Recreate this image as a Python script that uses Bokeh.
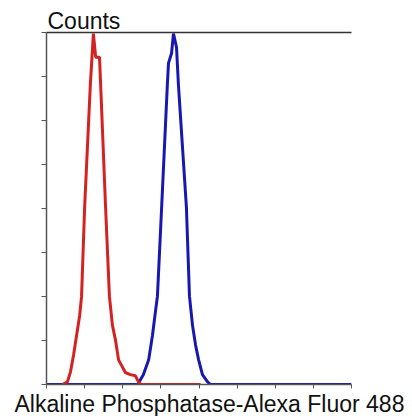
from bokeh.plotting import figure
from bokeh.models import Range1d, FixedTicker, LinearAxis, Title
from bokeh.embed import file_html
from bokeh.resources import INLINE

# Isotype control (red) histogram, y in % of max count
red_x = [0.42, 0.55, 0.63, 0.71, 0.79, 0.87, 0.92, 1.00, 1.15, 1.23, 1.29, 1.39, 1.42,
         1.55, 1.65, 1.73, 1.81, 1.89, 1.99, 2.07, 2.20, 2.33, 2.41, 2.47, 4.04]
red_y = [0.0, 0.8, 3.6, 8.4, 14.0, 19.6, 25.1, 50.3, 85.2, 99.7, 93.0, 93.0, 85.2,
         50.3, 25.1, 16.8, 12.6, 7.0, 5.0, 3.4, 2.8, 2.5, 0.8, 0.0, 0.0]

# Alkaline Phosphatase stained sample (blue)
blue_x = [0.0, 2.39, 2.54, 2.68, 2.78, 2.86, 2.91, 3.02, 3.17, 3.20, 3.28, 3.33, 3.41,
          3.46, 3.67, 3.75, 3.83, 3.91, 3.99, 4.09, 4.22, 4.30, 8.0]
blue_y = [0.0, 0.0, 2.8, 7.0, 14.0, 20.9, 25.1, 50.3, 85.2, 91.3, 94.1, 99.7, 95.8,
          85.2, 50.3, 25.1, 16.8, 11.2, 7.0, 2.8, 0.8, 0.0, 0.0]

x_ticks = [0, 1, 2, 3, 4, 5, 6, 7, 8]
y_ticks = [0, 12.5, 25, 37.5, 50, 62.5, 75, 87.5, 100]
y_title = "Counts"
x_title = "Alkaline Phosphatase-Alexa Fluor 488"

p = figure(width=412, height=416, output_backend="svg", toolbar_location=None,
           x_range=Range1d(0, 8), y_range=Range1d(0, 100),
           min_border_left=46, min_border_right=61, min_border_top=32, min_border_bottom=26)
p.outline_line_color = None
p.grid.grid_line_color = None
p.background_fill_color = "white"
p.border_fill_color = "white"

for ax, ticks, tick_len in ((p.xaxis[0], x_ticks, 4), (p.yaxis[0], y_ticks, 5)):
    ax.ticker = FixedTicker(ticks=ticks)
    ax.major_label_text_font_size = "0px"
    ax.major_label_text_alpha = 0
    ax.major_label_standoff = 0
    ax.minor_tick_line_color = None
    ax.major_tick_in = 0
    ax.major_tick_out = tick_len
    ax.major_tick_line_color = "#555555"
    ax.axis_line_color = "#555555"
    ax.axis_line_width = 1.5

top = LinearAxis(ticker=FixedTicker(ticks=[]), major_label_text_font_size="0px",
                 major_tick_out=0, major_tick_in=0, minor_tick_line_color=None,
                 major_label_standoff=0,
                 axis_line_color="#333333", axis_line_width=1.5)
p.add_layout(top, "above")

p.line(blue_x, blue_y, line_color="#1818b0", line_width=3)
p.line(red_x, red_y, line_color="#d42222", line_width=3)

p.title = Title(text=y_title, text_font="Liberation Sans", text_font_size="23px",
                text_font_style="normal", text_color="#111111", align="left",
                offset=1, standoff=-2)
p.title_location = "above"

p.add_layout(Title(text=x_title, text_font="Liberation Sans", text_font_size="23px",
                   text_font_style="normal", text_color="#111111", align="left",
                   offset=-32, standoff=0), "below")

open("out.html", "w").write(file_html(p, INLINE))
